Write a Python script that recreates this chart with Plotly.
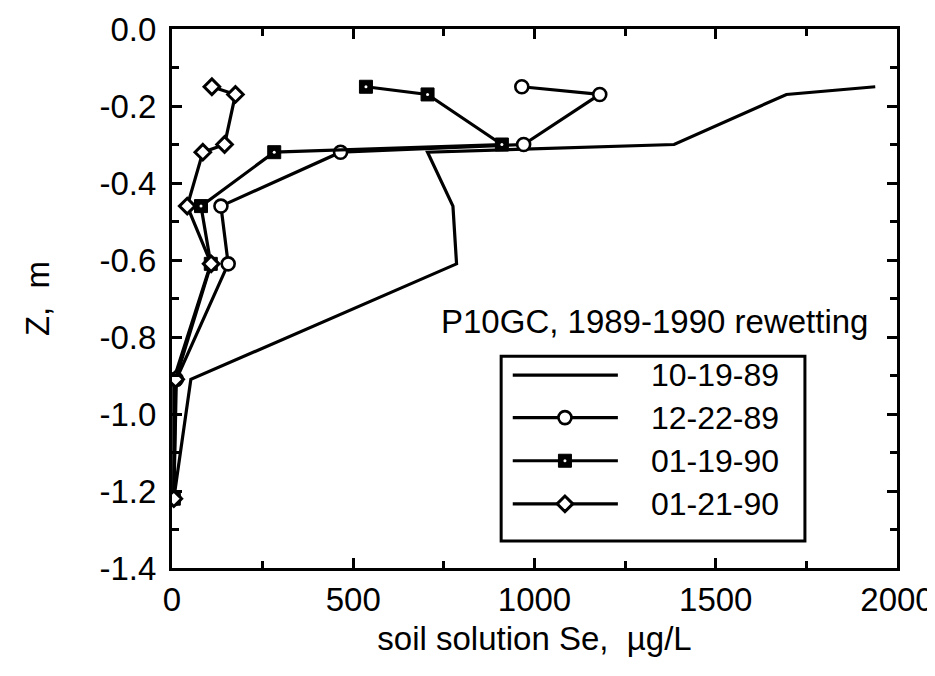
import plotly.graph_objects as go

# ---- data ----
depth_m = [-0.15, -0.17, -0.30, -0.32, -0.46, -0.61, -0.91, -1.22]
se_10_19_89 = [1940, 1695, 1385, 705, 775, 785, 52, 5]
se_12_22_89 = [965, 1180, 970, 465, 135, 155, 12, 5]
se_01_19_90 = [535, 705, 910, 282, 80, 107, 5, 5]
se_01_21_90 = [110, 175, 145, 85, 42, 108, 10, 5]

series_names = ["10-19-89", "12-22-89", "01-19-90", "01-21-90"]

x_tickvals = [0, 500, 1000, 1500, 2000]
x_ticktext = ["0", "500", "1000", "1500", "2000"]
y_tickvals = [0.0, -0.2, -0.4, -0.6, -0.8, -1.0, -1.2, -1.4]
y_ticktext = ["0.0", "-0.2", "-0.4", "-0.6", "-0.8", "-1.0", "-1.2", "-1.4"]

FONT = "Liberation Sans, Arial, Helvetica, sans-serif"
LW = 3.2

styles = [
    dict(mode="lines", marker=None, dot=False),
    dict(mode="lines+markers", marker=dict(symbol="circle", size=13, color="white",
                                             line=dict(color="black", width=2.6)), dot=False),
    dict(mode="lines+markers", marker=dict(symbol="square", size=13, color="black",
                                             line=dict(color="black", width=1)), dot=True),
    dict(mode="lines+markers", marker=dict(symbol="diamond", size=12, color="white",
                                             line=dict(color="black", width=3)), dot=False),
]
series_vals = [se_10_19_89, se_12_22_89, se_01_19_90, se_01_21_90]
dot_marker = dict(symbol="circle", size=3, color="white", line=dict(width=0))

fig = go.Figure()
for name, vals, st in zip(series_names, series_vals, styles):
    kw = dict(x=vals, y=depth_m, mode=st["mode"], name=name, showlegend=False,
              line=dict(color="black", width=LW))
    if st["marker"] is not None:
        kw["marker"] = st["marker"]
    fig.add_trace(go.Scatter(**kw))
    if st["dot"]:
        fig.add_trace(go.Scatter(x=vals, y=depth_m, mode="markers", marker=dot_marker,
                                 showlegend=False, hoverinfo="skip"))

# ---- custom legend (drawn in plot-area fraction coordinates) ----
leg_box = dict(x0=0.454, x1=0.873, y0=0.050, y1=0.393)
leg_rows = [0.358, 0.279, 0.199, 0.119]
leg_line_x = [0.470, 0.615]
leg_mark_x = 0.542
leg_text_x = 0.658

fig.add_shape(type="rect", xref="paper", yref="paper", line=dict(color="black", width=3),
              layer="below", **leg_box)
for i, (name, st) in enumerate(zip(series_names, styles)):
    ry = leg_rows[i]
    fig.add_trace(go.Scatter(x=leg_line_x, y=[ry, ry], mode="lines", xaxis="x2", yaxis="y2",
                             line=dict(color="black", width=LW), showlegend=False, hoverinfo="skip"))
    if st["marker"] is not None:
        fig.add_trace(go.Scatter(x=[leg_mark_x], y=[ry], mode="markers", xaxis="x2", yaxis="y2",
                                 marker=st["marker"], showlegend=False, hoverinfo="skip"))
        if st["dot"]:
            fig.add_trace(go.Scatter(x=[leg_mark_x], y=[ry], mode="markers", xaxis="x2", yaxis="y2",
                                     marker=dot_marker, showlegend=False, hoverinfo="skip"))
    fig.add_annotation(x=leg_text_x, y=ry, xref="paper", yref="paper", text=name,
                       showarrow=False, xanchor="left", yanchor="middle",
                       font=dict(family=FONT, size=32, color="black"))

fig.add_annotation(x=0.963, y=0.458, xref="paper", yref="paper",
                   text="P10GC, 1989-1990 rewetting", showarrow=False,
                   xanchor="right", yanchor="middle",
                   font=dict(family=FONT, size=33, color="black"))

axis_common = dict(showline=True, linecolor="black", linewidth=3, mirror="ticks",
                   ticks="inside", ticklen=10, tickwidth=2.5, tickcolor="black",
                   showgrid=False, zeroline=False, ticklabeloverflow="allow",
                   automargin=False,
                   tickfont=dict(family=FONT, size=33, color="black"))

fig.update_layout(
    width=935, height=676,
    margin=dict(l=164, r=46, t=21, b=116),
    paper_bgcolor="white", plot_bgcolor="white",
    font=dict(family=FONT, color="black"),
    xaxis=dict(range=[0, 2000], tickvals=x_tickvals, ticktext=x_ticktext,
               minor=dict(dtick=250, tick0=0, ticks="inside", ticklen=7, tickwidth=2.5,
                          tickcolor="black", showgrid=False),
               ticklabelstandoff=0,
               title=dict(text="soil solution Se,  \u00b5g/L", standoff=11,
                          font=dict(family=FONT, size=33, color="black")),
               **axis_common),
    yaxis=dict(range=[-1.4, 0], tickvals=y_tickvals, ticktext=y_ticktext,
               minor=dict(dtick=0.1, tick0=0, ticks="inside", ticklen=7, tickwidth=2.5,
                          tickcolor="black", showgrid=False),
               ticklabelstandoff=6,
               title=dict(text="Z,  m", standoff=40,
                          font=dict(family=FONT, size=33, color="black")),
               **axis_common),
    xaxis2=dict(overlaying="x", range=[0, 1], visible=False, anchor="y2"),
    yaxis2=dict(overlaying="y", range=[0, 1], visible=False, anchor="x2"),
)

fig.write_html("out.html")
